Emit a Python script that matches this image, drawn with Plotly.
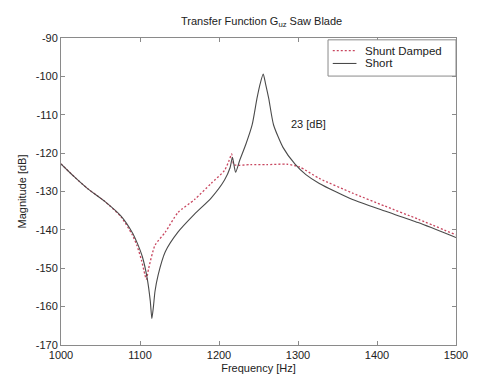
import plotly.graph_objects as go

# Frequency response of the saw blade, G_uz, magnitude in dB
short_freq = [1000, 1017, 1034, 1055, 1076, 1090, 1096, 1103, 1109, 1113, 1115, 1117,
              1119, 1123, 1132, 1148, 1169, 1190, 1207, 1214, 1217, 1221, 1226,
              1234, 1242, 1248, 1252, 1256, 1259, 1263, 1269, 1281, 1296, 1310,
              1327, 1369, 1410, 1452, 1500]
short_db = [-122.8, -126.2, -129.3, -132.5, -136.4, -140.6, -143.2, -147.0, -152.5, -158.5, -163.1, -160.0,
            -156.0, -151.7, -145.7, -140.6, -135.9, -131.7, -127.0, -123.8, -121.1, -125.0, -122.0,
            -117.7, -112.6, -105.8, -102.0, -99.4, -102.0, -105.8, -112.6, -118.5, -122.8, -125.6,
            -127.9, -132.1, -135.1, -138.1, -142.0]

damped_freq = [1000, 1017, 1034, 1055, 1076, 1090, 1096, 1102, 1106, 1108, 1111, 1119,
               1132, 1148, 1169, 1190, 1207, 1213, 1216, 1219, 1240, 1260, 1286, 1302,
               1327, 1369, 1410, 1452, 1500]
damped_db = [-122.8, -126.2, -129.3, -132.5, -136.6, -141.2, -144.0, -148.0, -151.5, -152.9, -150.0, -144.0,
             -140.6, -135.5, -132.1, -127.9, -124.5, -121.8, -120.2, -123.0, -123.0, -123.0, -122.9, -123.6,
             -126.6, -130.4, -133.8, -137.2, -141.3]

x_ticks = [1000, 1100, 1200, 1300, 1400, 1500]
y_ticks = [-170, -160, -150, -140, -130, -120, -110, -100, -90]

FONT = "Liberation Sans, Arial, sans-serif"
AX = "#8a8a8a"
TXT = "#222222"
DAMPED_STYLE = dict(color="rgb(200,70,95)", width=1.3, dash="2px,2px")
SHORT_STYLE = dict(color="#4a4a4a", width=1.1)

fig = go.Figure()
fig.add_trace(go.Scatter(x=damped_freq, y=damped_db, mode="lines", name="Shunt Damped",
                         line=dict(**DAMPED_STYLE, shape="spline", smoothing=0.6)))
fig.add_trace(go.Scatter(x=short_freq, y=short_db, mode="lines", name="Short",
                         line=dict(**SHORT_STYLE, shape="spline", smoothing=0.6)))

fig.add_annotation(x=1313, y=-112.3, text="23 [dB]", showarrow=False,
                   font=dict(family=FONT, size=11, color=TXT))

# compact boxed legend in the upper right corner of the axes
fig.add_shape(type="rect", xref="paper", yref="paper", x0=0.676, x1=1.0, y0=0.876, y1=0.994,
              line=dict(color=AX, width=1), fillcolor="white", layer="above")
legend_rows = [("Shunt Damped", DAMPED_STYLE, 0.9586), ("Short", SHORT_STYLE, 0.917)]
for label, style, yy in legend_rows:
    fig.add_shape(type="line", xref="paper", yref="paper", x0=0.688, x1=0.748, y0=yy, y1=yy,
                  line=style, layer="above")
    fig.add_annotation(xref="paper", yref="paper", x=0.764, y=yy, text=label, showarrow=False,
                       xanchor="left", yanchor="middle",
                       font=dict(family=FONT, size=11.5, color=TXT))

axis_common = dict(showline=True, linecolor=AX, linewidth=1, mirror="ticks",
                   ticks="inside", ticklen=4, tickcolor=AX, showgrid=False, zeroline=False,
                   tickfont=dict(family=FONT, size=11, color=TXT))

fig.update_xaxes(range=[1000, 1500], tickvals=x_ticks, ticktext=[str(v) for v in x_ticks],
                 title=dict(text="Frequency [Hz]", standoff=4,
                            font=dict(family=FONT, size=11, color=TXT)),
                 **axis_common)
fig.update_yaxes(range=[-170, -90], tickvals=y_ticks, ticktext=[str(v) for v in y_ticks],
                 title=dict(text="Magnitude [dB]", standoff=6,
                            font=dict(family=FONT, size=11, color=TXT)),
                 **axis_common)

fig.update_layout(
    width=480, height=385,
    margin=dict(l=61, r=18, t=38, b=33),
    paper_bgcolor="white", plot_bgcolor="white",
    title=dict(text="Transfer Function G<sub>uz</sub> Saw Blade", x=0.545, xanchor="center",
               y=0.945, yanchor="middle", font=dict(family=FONT, size=11, color=TXT)),
    showlegend=False,
)

fig.write_html("out.html")
